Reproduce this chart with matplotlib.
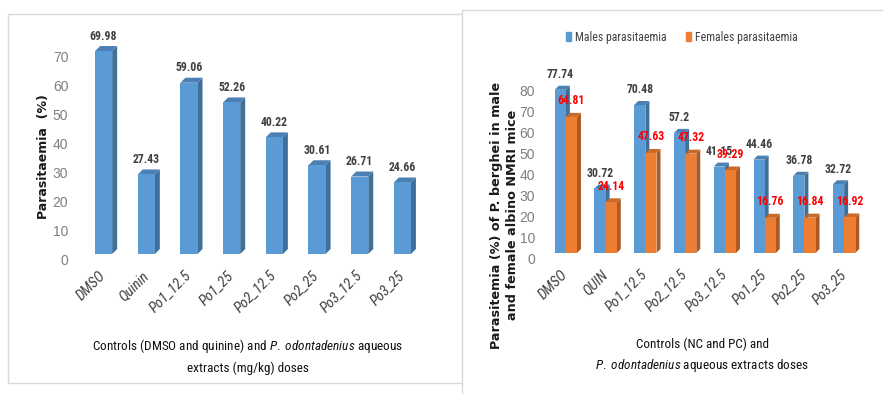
import matplotlib
matplotlib.use('Agg')
import matplotlib.pyplot as plt
from matplotlib.patches import Polygon, Rectangle
import numpy as np

# left chart: single series
left_cats = ['DMSO', 'Quinin', 'Po1_12.5', 'Po1_25', 'Po2_12.5', 'Po2_25', 'Po3_12.5', 'Po3_25']
left_vals = [69.98, 27.43, 59.06, 52.26, 40.22, 30.61, 26.71, 24.66]

# right chart: males vs females
right_cats = ['DMSO', 'QUIN', 'Po1_12.5', 'Po2_12.5', 'Po3_12.5', 'Po1_25', 'Po2_25', 'Po3_25']
males = [77.74, 30.72, 70.48, 57.2, 41.15, 44.46, 36.78, 32.72]
females = [64.81, 24.14, 47.63, 47.32, 39.29, 16.76, 16.84, 16.92]

COND = ['Roboto Condensed', 'DejaVu Sans']
plt.rcParams['font.family'] = COND
plt.rcParams['mathtext.fontset'] = 'custom'
plt.rcParams['mathtext.rm'] = 'Roboto Condensed'
plt.rcParams['mathtext.it'] = 'Roboto Condensed:italic'

BLUE, BLUE_SIDE, BLUE_TOP = '#5b9bd5', '#3f6f9b', '#4a80b4'
ORANGE, ORANGE_SIDE, ORANGE_TOP = '#ed7d31', '#ad5a20', '#c9692a'

W, H = 883, 394
fig = plt.figure(figsize=(W / 100, H / 100), dpi=100)
fig.patch.set_facecolor('white')


def px_axes(x0, y_top, x1, y_bot):
    # pixel box (from top-left) -> figure fraction axes
    return fig.add_axes([x0 / W, 1 - y_bot / H, (x1 - x0) / W, (y_bot - y_top) / H])


def bar3d(ax, xs, hs, width, face, side, top, depth=5, z=3):
    ax.bar(xs, hs, width, color=face, zorder=z, linewidth=0)
    inv = ax.transData.inverted()
    for x, h in zip(xs, hs):
        (xl, y0), (xr, yh) = ax.transData.transform([(x - width / 2, 0), (x + width / 2, h)])
        d = depth
        side_pts = inv.transform([(xr, y0), (xr, yh), (xr + d, yh + d), (xr + d, y0 + d)])
        top_pts = inv.transform([(xl, yh), (xr, yh), (xr + d, yh + d), (xl + d, yh + d)])
        ax.add_patch(Polygon(side_pts, closed=True, facecolor=side, edgecolor='none', zorder=z - 0.5))
        ax.add_patch(Polygon(top_pts, closed=True, facecolor=top, edgecolor='none', zorder=z - 0.5))


def style_axes(ax, cats, ymax, pad_y):
    ax.set_facecolor('none')
    for s in ax.spines.values():
        s.set_visible(False)
    ax.set_xlim(-0.6, len(cats) - 0.4)
    ax.set_ylim(0, ymax)
    ax.set_yticks(np.arange(0, ymax, 10))
    ax.tick_params(axis='y', length=0, pad=pad_y, labelsize=10, labelcolor='#7f7f7f')
    ax.tick_params(axis='x', length=0, pad=14)
    ax.set_xticks(range(len(cats)))
    ax.set_xticklabels(cats, rotation=45, ha='right', va='center', rotation_mode='anchor',
                       fontsize=10.5, style='italic', color='#404040')
    for lab in ax.get_yticklabels():
        lab.set_fontfamily(['Liberation Sans', 'DejaVu Sans'])
        lab.set_va('top')


# panel frames
fig.patches.append(Rectangle((8 / W, 1 - 383 / H), 470 / W, 369 / H, transform=fig.transFigure,
                             facecolor='white', edgecolor='#d9d9d9', lw=1, zorder=-2))
fig.patches.append(Rectangle((462 / W, -0.05), 0.5, 1 - 10 / H + 0.05, transform=fig.transFigure,
                             facecolor='white', edgecolor='#d9d9d9', lw=1, zorder=-1))

# ---------- left chart ----------
ax1 = px_axes(78, 22, 428, 254)
style_axes(ax1, left_cats, 80, 7)
x1 = np.arange(len(left_cats))
bar3d(ax1, x1, left_vals, 0.40, BLUE, BLUE_SIDE, BLUE_TOP, depth=5)
for x, v in zip(x1, left_vals):
    ax1.annotate(f'{v:.2f}', (x, v), xytext=(0, 15), textcoords='offset pixels',
                 ha='center', va='center', fontsize=8.5, fontweight='bold', color='#404040')
fig.text(44 / W, 1 - 157 / H, 'Parasitaemia  (%)', rotation=90, ha='center', va='center',
         fontsize=9, fontweight='bold', family='DejaVu Sans', color='#1a1a1a')
fig.text(248 / W, 1 - 346 / H, r'Controls (DMSO and quinine) and $\it{P.\ odontadenius}$ aqueous',
         ha='center', va='center', fontsize=9.5, color='#111111')
fig.text(248 / W, 1 - 368 / H, 'extracts (mg/kg) doses', ha='center', va='center',
         fontsize=9.5, color='#111111')

# ---------- right chart ----------
ax2 = px_axes(542, 64, 868, 253)
style_axes(ax2, right_cats, 90, 5)
x2 = np.arange(len(right_cats))
bw = 0.28
bar3d(ax2, x2 - bw / 2, males, bw, BLUE, BLUE_SIDE, BLUE_TOP, depth=4, z=3)
bar3d(ax2, x2 + bw / 2, females, bw, ORANGE, ORANGE_SIDE, ORANGE_TOP, depth=4, z=5)
for x, v in zip(x2 - bw / 2, males):
    ax2.annotate(f'{v:g}', (x, v), xytext=(0, 15), textcoords='offset pixels',
                 ha='center', va='center', fontsize=8.5, fontweight='bold', color='#404040', zorder=6)
for x, v in zip(x2 + bw / 2, females):
    ax2.annotate(f'{v:g}', (x, v), xytext=(0, 16), textcoords='offset pixels',
                 ha='center', va='center', fontsize=8.5, fontweight='bold', color='#ff0000', zorder=7)

fig.text(497 / W, 1 - 215 / H, 'Parasitemia (%) of P. berghei in male', rotation=90,
         ha='center', va='center', fontsize=9.2, fontweight='bold', family='DejaVu Sans', color='#1a1a1a')
fig.text(512 / W, 1 - 215 / H, 'and female albino NMRI mice', rotation=90,
         ha='center', va='center', fontsize=9.2, fontweight='bold', family='DejaVu Sans', color='#1a1a1a')
fig.text(702 / W, 1 - 344 / H, 'Controls (NC and PC) and', ha='center', va='center',
         fontsize=9.5, color='#111111')
fig.text(702 / W, 1 - 366 / H, r'$\it{P.\ odontadenius}$ aqueous extracts doses', ha='center',
         va='center', fontsize=9.5, color='#111111')

h_m = Rectangle((0, 0), 1, 1, color=BLUE)
h_f = Rectangle((0, 0), 1, 1, color=ORANGE)
fig.legend([h_m, h_f], ['Males parasitaemia', 'Females parasitaemia'], loc='center',
           bbox_to_anchor=(682 / W, 1 - 37 / H), ncol=2, frameon=False, fontsize=8.5,
           handlelength=0.45, handleheight=0.75, handletextpad=0.35, columnspacing=1.6,
           labelcolor='#404040')

fig.savefig('out.png', dpi=100, facecolor='white')
